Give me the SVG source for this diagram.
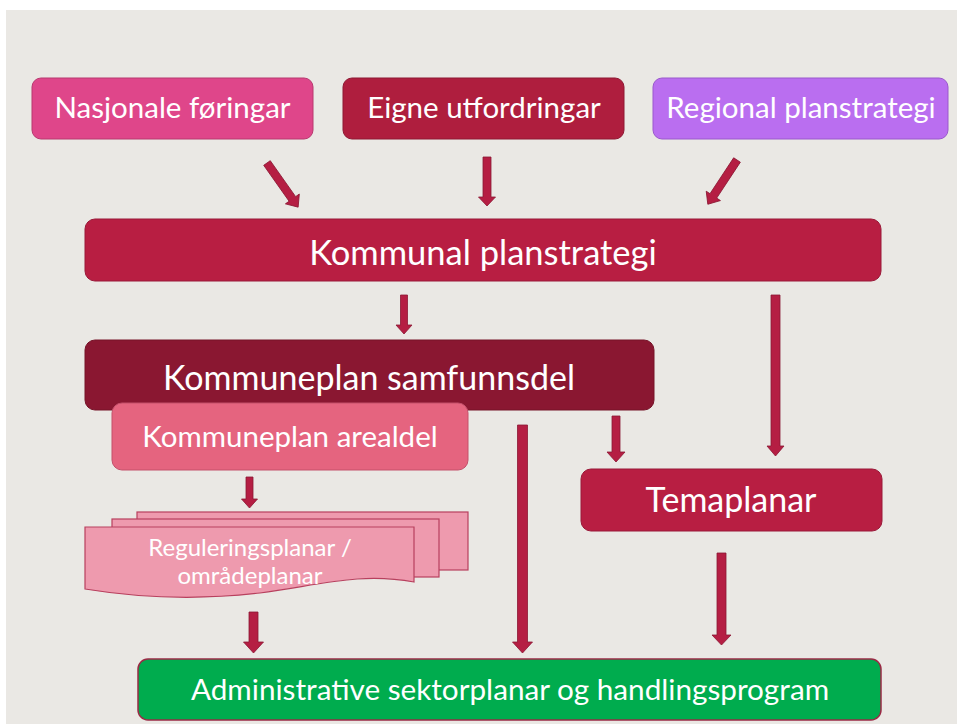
<svg xmlns="http://www.w3.org/2000/svg" width="957" height="724" viewBox="0 0 957 724">
<style>
.t{font-family:Lato,"Open Sans","Liberation Sans",sans-serif;fill:#ffffff;text-anchor:middle}
.arr{fill:#B51E43;stroke:#8C1733;stroke-width:0.8}
.doc{fill:#EE9AAE;stroke:#B8405E;stroke-width:1.2}
</style>
<rect x="0" y="0" width="957" height="724" fill="#ffffff"/>
<rect x="6" y="10" width="951" height="714" fill="#EAE8E4"/>

<g id="connectors">
<polygon class="arr" transform="translate(267,163) rotate(-35.2)" points="-4,0 4,0 4,44 8.5,44 0,54 -8.5,44 -4,44"/>
<polygon class="arr" transform="translate(487,157) rotate(0)" points="-4,0 4,0 4,40 8.5,40 0,49 -8.5,40 -4,40"/>
<polygon class="arr" transform="translate(737,160) rotate(33.4)" points="-4,0 4,0 4,43 8.5,43 0,53 -8.5,43 -4,43"/>
<polygon class="arr" transform="translate(404,295)" points="-3.5,0 3.5,0 3.5,30 8,30 0,39 -8,30 -3.5,30"/>
<polygon class="arr" transform="translate(775.5,295)" points="-4.5,0 4.5,0 4.5,151 8.5,151 0,161 -8.5,151 -4.5,151"/>
<polygon class="arr" transform="translate(249.5,477)" points="-3.5,0 3.5,0 3.5,22 8,22 0,31 -8,22 -3.5,22"/>
<polygon class="arr" transform="translate(616,416)" points="-4,0 4,0 4,36 9,36 0,46 -9,36 -4,36"/>
<polygon class="arr" transform="translate(522.5,425)" points="-5,0 5,0 5,217 10,217 0,228 -10,217 -5,217"/>
<polygon class="arr" transform="translate(253.5,612)" points="-4.5,0 4.5,0 4.5,30 10,30 0,41 -10,30 -4.5,30"/>
<polygon class="arr" transform="translate(721.5,553)" points="-4.5,0 4.5,0 4.5,82 9.5,82 0,92 -9.5,82 -4.5,82"/>
</g>

<g id="nasjonale">
<rect x="32" y="78" width="281" height="61" rx="9" fill="#DF468A" stroke="#B8386F" stroke-width="1"/>
<text class="t" x="172.5" y="118" font-size="29.5">Nasjonale føringar</text>
</g>
<g id="eigne">
<rect x="343" y="78" width="281" height="61" rx="9" fill="#AF1E3E" stroke="#8E1833" stroke-width="1"/>
<text class="t" x="484" y="118" font-size="29.5">Eigne utfordringar</text>
</g>
<g id="regional">
<rect x="653" y="78" width="295" height="61" rx="9" fill="#BA6EF0" stroke="#9A58CC" stroke-width="1"/>
<text class="t" x="801" y="118" font-size="29.5">Regional planstrategi</text>
</g>
<g id="kommunal">
<rect x="85" y="219" width="796" height="62" rx="10" fill="#B81E42" stroke="#9A1838" stroke-width="1"/>
<text class="t" x="483" y="265" font-size="34.5">Kommunal planstrategi</text>
</g>
<g id="samfunnsdel">
<rect x="85" y="340" width="569" height="70" rx="10" fill="#8A1731" stroke="#761429" stroke-width="1"/>
<text class="t" x="369" y="390" font-size="34">Kommuneplan samfunnsdel</text>
</g>
<g id="arealdel">
<rect x="112" y="403" width="356" height="67" rx="10" fill="#E5647F" stroke="#C4506B" stroke-width="1"/>
<text class="t" x="290" y="447" font-size="29.5">Kommuneplan arealdel</text>
</g>
<g id="regulering">
<rect class="doc" x="137" y="512" width="331" height="58"/>
<rect class="doc" x="112" y="519" width="327" height="58"/>
<path class="doc" d="M85,527 H414 V582 C360,572 320,585 260,593 C200,600 140,598 85,589 Z"/>
<text class="t" x="250" y="556" font-size="24">Reguleringsplanar /</text>
<text class="t" x="250" y="584" font-size="24">områdeplanar</text>
</g>
<g id="temaplanar">
<rect x="581" y="469" width="301" height="62" rx="10" fill="#B81E42" stroke="#9A1838" stroke-width="1"/>
<text class="t" x="731" y="512" font-size="34">Temaplanar</text>
</g>
<g id="administrative">
<rect x="138" y="659" width="743" height="61" rx="10" fill="#00AC4E" stroke="#9A2A45" stroke-width="1.5"/>
<text class="t" x="510" y="700" font-size="29.7">Administrative sektorplanar og handlingsprogram</text>
</g>
</svg>
